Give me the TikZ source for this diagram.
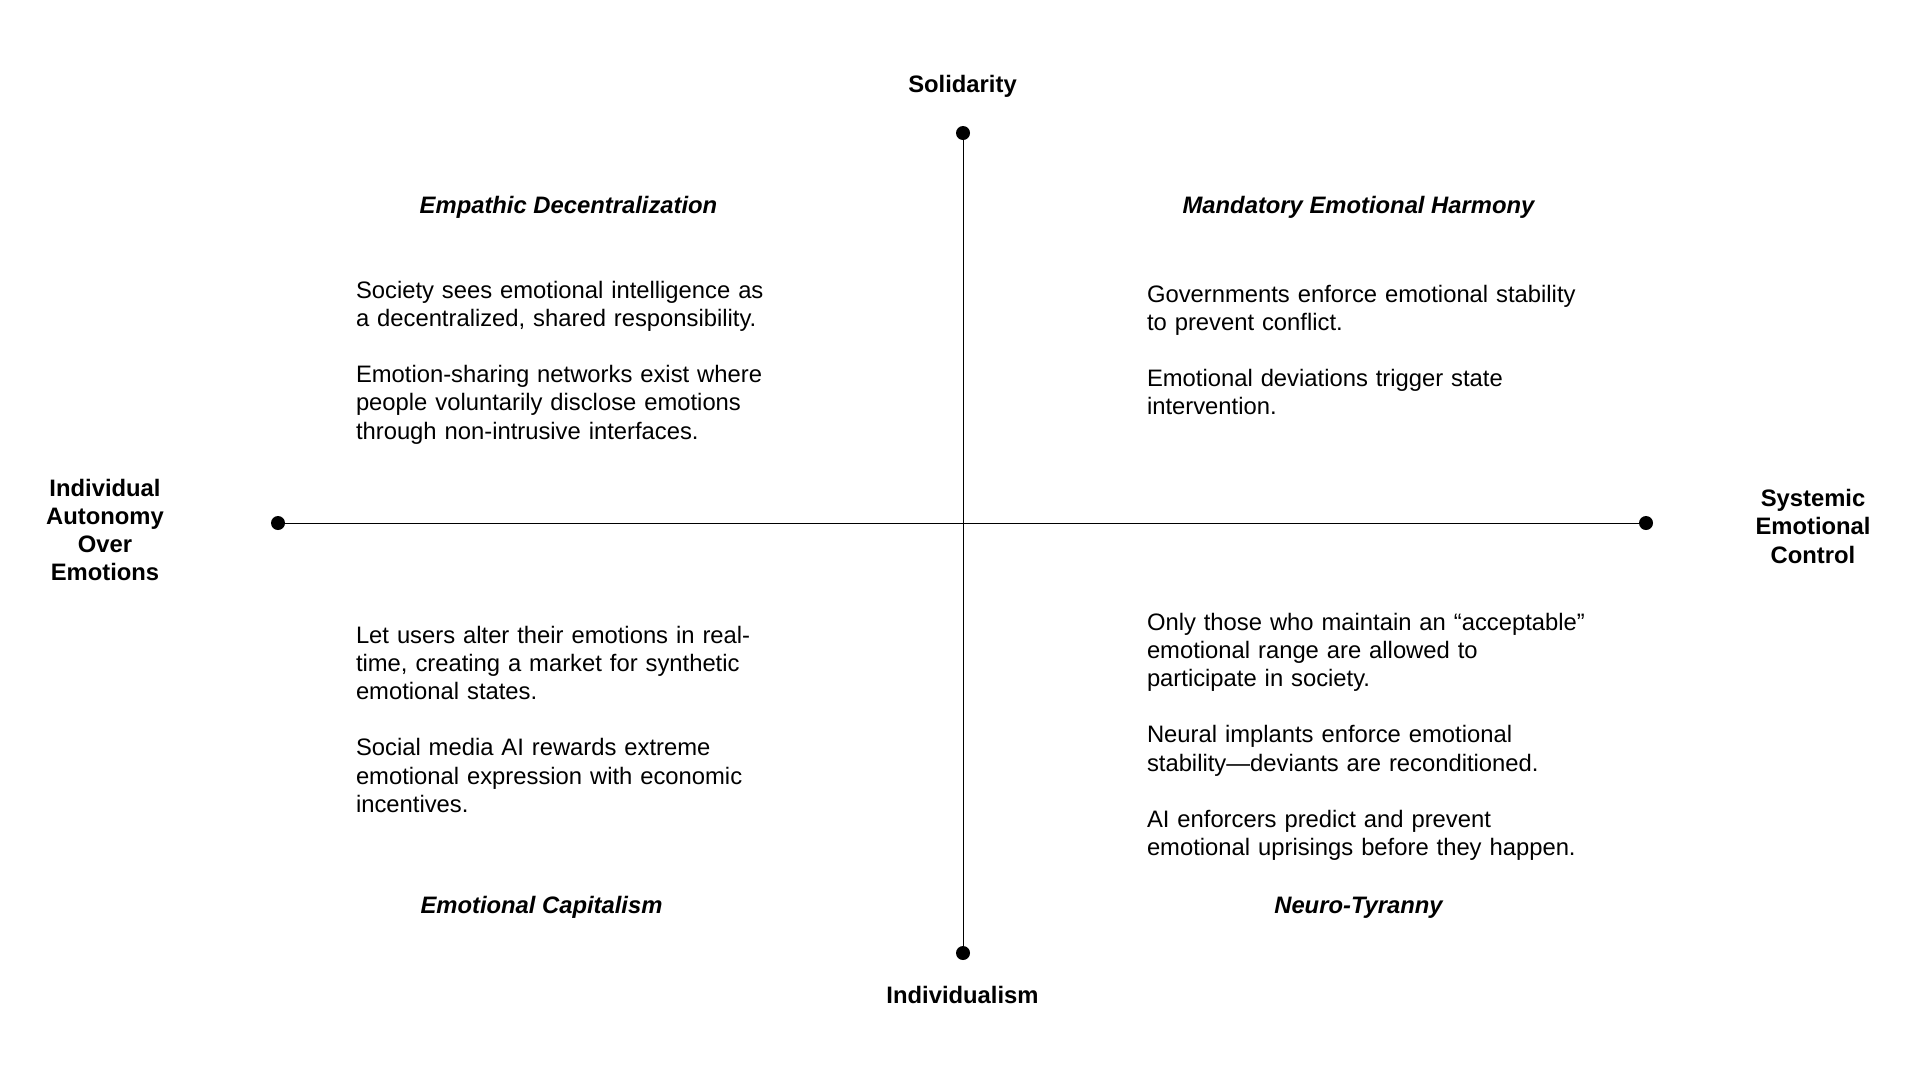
\documentclass[tikz,border=0pt]{standalone}
\usepackage{fontspec}
\setmainfont{Liberation Sans}
\begin{document}
\begin{tikzpicture}[x=1pt,y=-1pt,
  base/.style={inner sep=0pt,outer sep=0pt,font=\fontsize{23.8}{28.2}\selectfont},
  axislabel/.style={base,font=\fontsize{23.8}{28.2}\selectfont\bfseries},
  sidelabel/.style={axislabel,align=center,text width=260pt,anchor=north},
  qtitle/.style={base,font=\fontsize{23.8}{28.2}\selectfont\bfseries\itshape,anchor=base},
  body/.style={base,align=left,text width=520pt,anchor=north west},
  dot/.style={circle,fill=black,inner sep=0pt,minimum size=14pt},
  axis/.style={line width=1pt,black}]
\useasboundingbox (0,0) rectangle (1920,1080);
\fill[white] (0,0) rectangle (1920,1080);

% axis end points
\node[dot] (top) at (963,133) {};
\node[dot] (bot) at (963,953) {};
\node[dot] (lft) at (278,523) {};
\node[dot] (rgt) at (1646,523) {};
\draw[axis] (top.center) -- (bot.center);
\draw[axis] (lft.center) -- (rgt.center);

% axis labels
\node[axislabel,anchor=base] (sol) at (962.5,92) {Solidarity};
\node[axislabel,anchor=base] (ind) at (962.5,1003) {Individualism};
\node[sidelabel] (auto) at (105,476.4) {\strut Individual\\Autonomy\\Over\\Emotions};
\node[sidelabel] (sys) at (1813,487) {\strut Systemic\\Emotional\\Control};

% quadrant titles
\node[qtitle] (t1) at (568.5,213) {Empathic Decentralization};
\node[qtitle] (t2) at (1358.5,213) {Mandatory Emotional Harmony};
\node[qtitle] (t3) at (541.5,913) {Emotional Capitalism};
\node[qtitle] (t4) at (1358.5,913) {Neuro-Tyranny};

% quadrant texts
\node[body] (b1) at (356,278.4) {\strut Society sees emotional intelligence as\\
a decentralized, shared responsibility.\\[28.2pt]
Emotion-sharing networks exist where\\
people voluntarily disclose emotions\\
through non-intrusive interfaces.};

\node[body] (b2) at (1147,282.4) {\strut Governments enforce emotional stability\\
to prevent conflict.\\[28.2pt]
Emotional deviations trigger state\\
intervention.};

\node[body] (b3) at (356,623.4) {\strut Let users alter their emotions in real-\\
time, creating a market for synthetic\\
emotional states.\\[28.2pt]
Social media AI rewards extreme\\
emotional expression with economic\\
incentives.};

\node[body] (b4) at (1147,610.4) {\strut Only those who maintain an “acceptable”\\
emotional range are allowed to\\
participate in society.\\[28.2pt]
Neural implants enforce emotional\\
stability—deviants are reconditioned.\\[28.2pt]
AI enforcers predict and prevent\\
emotional uprisings before they happen.};
\end{tikzpicture}
\end{document}
